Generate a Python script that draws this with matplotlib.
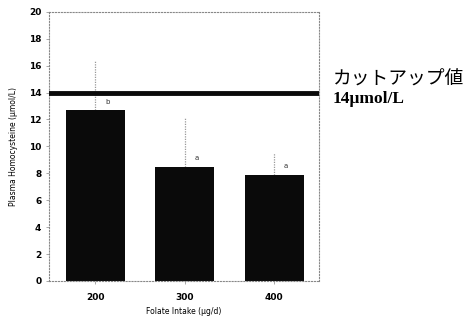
import matplotlib
matplotlib.use("Agg")
import matplotlib.pyplot as plt
import numpy as np

categories = ["200", "300", "400"]
means = [12.7, 8.5, 7.9]
upper_err = [3.7, 3.6, 1.6]
letters = ["b", "a", "a"]
cutoff = 14
yticks = list(range(0, 21, 2))

fig = plt.figure(figsize=(4.71, 3.2), dpi=100)
ax = fig.add_axes([0.104, 0.122, 0.573, 0.841])

x = np.arange(len(categories))
ax.bar(x, means, width=0.66, color="#0a0a0a", zorder=2)
ax.vlines(x, means, np.array(means) + np.array(upper_err), colors="#999999",
          linewidth=0.9, linestyles=(0, (1, 1)), zorder=1)
for xi, m, l in zip(x, means, letters):
    ax.text(xi + 0.13, m + 0.4, l, fontsize=5, color="#333333", ha="center", va="bottom")

ax.axhline(cutoff, color="#0a0a0a", linewidth=3.5, zorder=3)

ax.set_xlim(-0.52, 2.5)
ax.set_ylim(0, 20)
ax.set_xticks(x)
ax.set_xticklabels(categories)
ax.set_yticks(yticks)
ax.tick_params(axis="both", labelsize=6.5, length=2, color="#999999", width=0.6)
for lab in ax.get_xticklabels() + ax.get_yticklabels():
    lab.set_fontweight("bold")
ax.tick_params(axis="x", pad=7)
for s in ax.spines.values():
    s.set_linestyle(":")
    s.set_color("#888888")
    s.set_linewidth(0.8)

ax.set_xlabel("Folate Intake (\u03bcg/d)", fontsize=5.5, labelpad=3)
ax.set_ylabel("Plasma Homocysteine (\u03bcmol/L)", fontsize=5.5, labelpad=8)

fig.text(0.707, 1 - 79/320, "カットアップ値", fontsize=13.5,
         family=["Noto Sans CJK JP", "DejaVu Sans"], va="center", ha="left")
fig.text(0.707, 1 - 99/320, "14\u03bcmol/L", fontsize=12.5, fontweight="bold",
         family=["Liberation Serif", "DejaVu Serif"], va="center", ha="left")

fig.savefig("out.png", dpi=100)
